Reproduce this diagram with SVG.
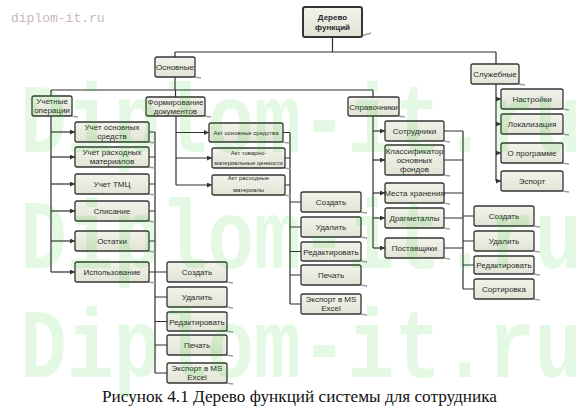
<svg xmlns="http://www.w3.org/2000/svg" width="587" height="415" viewBox="0 0 587 415">
<defs>
<linearGradient id="gf" x1="0" y1="0" x2="0" y2="1">
<stop offset="0" stop-color="#f2f3eb"/>
<stop offset="1" stop-color="#e1e4d5"/>
</linearGradient>
<marker id="ar" markerWidth="5" markerHeight="5" refX="5" refY="2.5" orient="auto" markerUnits="userSpaceOnUse">
<path d="M0,0 L5,2.5 L0,5 z" fill="#333"/>
</marker>
</defs>
<style>
.box{fill:url(#gf);stroke:#353535;stroke-width:1.3}
.sh{fill:none;stroke:#a0a0a0;stroke-width:1.5}
.t{font-family:"Liberation Sans",Arial,sans-serif;font-size:8px;fill:#2a2a2a;text-anchor:middle}
.ts{font-family:"Liberation Sans",Arial,sans-serif;font-size:6px;fill:#2a2a2a;text-anchor:middle}
.c{fill:none;stroke:#2e2e2e;stroke-width:1.2}
.a{fill:none;stroke:#2e2e2e;stroke-width:1.2;marker-end:url(#ar)}
.wm{font-family:"Liberation Mono","Courier New",monospace;font-size:78px;font-weight:bold;fill:#00cc00;fill-opacity:0.11}
</style>
<rect width="587" height="415" fill="#ffffff"/>
<text x="11" y="22" style="font-family:'Liberation Mono',monospace;font-size:13px;fill:#cbb7b7">diplom-it.ru</text>

<g id="connectors">
<path class="c" d="M332.5,37 V52 M175,52 H496 M175,52 V57 M496,52 V64"/>
<path class="c" d="M175,77 V90 M51,90 H373 M51,90 V96 M175.5,90 V97 M373,90 V97"/>
<path class="c" d="M51,116 V272"/>
<path class="a" d="M51,132 H75"/><path class="a" d="M51,157 H75"/><path class="a" d="M51,184 H75"/>
<path class="a" d="M51,211 H75"/><path class="a" d="M51,241 H75"/><path class="a" d="M51,272 H75"/>
<path class="c" d="M155,132 V373 M149,132 H155 M149,157 H155 M149,184 H155 M149,211 H155 M149,241 H155 M149,272 H167 M155,297 H167 M155,321.5 H167 M155,345 H167 M155,373 H167"/>
<path class="c" d="M176,116 V185"/>
<path class="a" d="M176,132.5 H209"/><path class="a" d="M176,158 H212"/><path class="a" d="M176,185 H212"/>
<path class="c" d="M290,132.5 V304 M283,132.5 H290 M285,158 H290 M285,185 H290 M290,202 H301 M290,227 H301 M290,251.5 H301 M290,275 H301 M290,304 H301"/>
<path class="c" d="M373,116 V248"/>
<path class="a" d="M373,131 H385"/><path class="a" d="M373,160 H385"/><path class="a" d="M373,193 H385"/>
<path class="a" d="M373,218 H385"/><path class="a" d="M373,248 H385"/>
<path class="c" d="M463,131 V289 M444,131 H463 M444,160 H463 M444,193 H463 M444,218 H463 M444,248 H463 M463,216 H474 M463,241 H474 M463,265 H474 M463,289 H474"/>
<path class="c" d="M496,84 V181"/>
<path class="a" d="M496,99 H501"/><path class="a" d="M496,124 H501"/><path class="a" d="M496,153 H501"/><path class="a" d="M496,181 H501"/>
</g>

<g id="root"><path class="sh" d="M361,36 L371,33"/><rect class="box" x="303" y="7" width="59" height="30" rx="2" style="stroke-width:2"/><text class="t" x="332.5" y="20" font-weight="bold">Дерево</text><text class="t" x="332.5" y="30" font-weight="bold">функций</text></g>
<g id="osnovnye"><path class="sh" d="M194,77 L201,78"/><rect class="box" x="155" y="57" width="40" height="20" rx="2"/><text class="t" x="175" y="70">Основные</text></g>
<g id="sluzhebnye"><path class="sh" d="M518,84 L525,85"/><rect class="box" x="471" y="64" width="48" height="20" rx="2"/><text class="t" x="495" y="77">Служебные</text></g>
<g id="uchetnye"><path class="sh" d="M71,116 L78,117"/><rect class="box" x="32" y="96" width="40" height="20" rx="2"/><text class="t" x="52" y="104">Учетные</text><text class="t" x="52" y="113">операции</text></g>
<g id="formirovanie"><path class="sh" d="M204,116 L211,117"/><rect class="box" x="146" y="97" width="59" height="19" rx="2"/><text class="t" x="175.5" y="105">Формирование</text><text class="t" x="175.5" y="114">документов</text></g>
<g id="spravochniki"><path class="sh" d="M398,116 L405,117"/><rect class="box" x="348" y="97" width="51" height="19" rx="2"/><text class="t" x="373.5" y="109.5">Справочники</text></g>

<g id="uos"><path class="sh" d="M148,142 L155,143"/><rect class="box" x="75" y="122" width="74" height="20" rx="2"/><text class="t" x="112" y="130">Учет основных</text><text class="t" x="112" y="139">средств</text></g>
<g id="urm"><path class="sh" d="M148,167 L155,168"/><rect class="box" x="75" y="147" width="74" height="20" rx="2"/><text class="t" x="112" y="155">Учет расходных</text><text class="t" x="112" y="164">материалов</text></g>
<g id="utmc"><path class="sh" d="M148,194 L155,195"/><rect class="box" x="75" y="174" width="74" height="20" rx="2"/><text class="t" x="112" y="187">Учет ТМЦ</text></g>
<g id="spisanie"><path class="sh" d="M148,221 L155,222"/><rect class="box" x="75" y="201" width="74" height="20" rx="2"/><text class="t" x="112" y="214">Списание</text></g>
<g id="ostatki"><path class="sh" d="M148,251 L155,252"/><rect class="box" x="75" y="231" width="74" height="20" rx="2"/><text class="t" x="112" y="244">Остатки</text></g>
<g id="ispolzovanie"><path class="sh" d="M148,282 L155,283"/><rect class="box" x="75" y="262" width="74" height="20" rx="2"/><text class="t" x="112" y="275">Использование</text></g>

<g id="i_create"><path class="sh" d="M226,282 L233,283"/><rect class="box" x="167" y="262" width="60" height="20" rx="2"/><text class="t" x="197" y="275">Создать</text></g>
<g id="i_del"><path class="sh" d="M226,307 L233,308"/><rect class="box" x="167" y="287" width="60" height="20" rx="2"/><text class="t" x="197" y="300">Удалить</text></g>
<g id="i_edit"><path class="sh" d="M226,331 L233,332"/><rect class="box" x="167" y="312" width="60" height="19" rx="2"/><text class="t" x="197" y="324.5">Редактировать</text></g>
<g id="i_print"><path class="sh" d="M226,355 L233,356"/><rect class="box" x="167" y="335" width="60" height="20" rx="2"/><text class="t" x="197" y="348">Печать</text></g>
<g id="i_export"><path class="sh" d="M226,383 L233,384"/><rect class="box" x="167" y="363" width="60" height="20" rx="2"/><text class="t" x="197" y="371">Экспорт в MS</text><text class="t" x="197" y="380">Excel</text></g>

<g id="akt1"><path class="sh" d="M282,142 L289,143"/><rect class="box" x="209" y="123" width="74" height="19" rx="2"/><text class="ts" x="246" y="134.5">Акт основные средства</text></g>
<g id="akt2"><path class="sh" d="M284,168 L291,169"/><rect class="box" x="212" y="148" width="73" height="20" rx="2"/><text class="ts" x="248.5" y="155">Акт товарно-</text><text class="ts" x="248.5" y="164.5">материальные ценности</text></g>
<g id="akt3"><path class="sh" d="M284,195 L291,196"/><rect class="box" x="212" y="175" width="73" height="20" rx="2"/><text class="ts" x="248.5" y="179.5">Акт расходные</text><text class="ts" x="248.5" y="191.5">материалы</text></g>

<g id="f_create"><path class="sh" d="M360,212 L367,213"/><rect class="box" x="301" y="192" width="60" height="20" rx="2"/><text class="t" x="331" y="205">Создать</text></g>
<g id="f_del"><path class="sh" d="M360,237 L367,238"/><rect class="box" x="301" y="217" width="60" height="20" rx="2"/><text class="t" x="331" y="230">Удалить</text></g>
<g id="f_edit"><path class="sh" d="M360,261 L367,262"/><rect class="box" x="301" y="242" width="60" height="19" rx="2"/><text class="t" x="331" y="254.5">Редактировать</text></g>
<g id="f_print"><path class="sh" d="M360,285 L367,286"/><rect class="box" x="301" y="265" width="60" height="20" rx="2"/><text class="t" x="331" y="278">Печать</text></g>
<g id="f_export"><path class="sh" d="M360,314 L367,315"/><rect class="box" x="301" y="294" width="60" height="20" rx="2"/><text class="t" x="331" y="302">Экспорт в MS</text><text class="t" x="331" y="311">Excel</text></g>

<g id="sotrudniki"><path class="sh" d="M443,141 L450,142"/><rect class="box" x="385" y="121" width="59" height="20" rx="2"/><text class="t" x="414.5" y="134">Сотрудники</text></g>
<g id="klassifikator"><path class="sh" d="M443,175 L450,176"/><rect class="box" x="385" y="145" width="59" height="30" rx="2"/><text class="t" x="414.5" y="153.5">Классификатор</text><text class="t" x="414.5" y="162.5">основных</text><text class="t" x="414.5" y="171.5">фондов</text></g>
<g id="mesta"><path class="sh" d="M443,203 L450,204"/><rect class="box" x="385" y="183" width="59" height="20" rx="2"/><text class="t" x="414.5" y="196">Места хранения</text></g>
<g id="dragmetally"><path class="sh" d="M443,228 L450,229"/><rect class="box" x="385" y="208" width="59" height="20" rx="2"/><text class="t" x="414.5" y="221">Драгметаллы</text></g>
<g id="postavshchiki"><path class="sh" d="M443,258 L450,259"/><rect class="box" x="385" y="238" width="59" height="20" rx="2"/><text class="t" x="414.5" y="251">Поставщики</text></g>

<g id="s_create"><path class="sh" d="M533,226 L540,227"/><rect class="box" x="474" y="206" width="60" height="20" rx="2"/><text class="t" x="504" y="219">Создать</text></g>
<g id="s_del"><path class="sh" d="M533,251 L540,252"/><rect class="box" x="474" y="231" width="60" height="20" rx="2"/><text class="t" x="504" y="244">Удалить</text></g>
<g id="s_edit"><path class="sh" d="M533,274 L540,275"/><rect class="box" x="474" y="256" width="60" height="18" rx="2"/><text class="t" x="504" y="268">Редактировать</text></g>
<g id="s_sort"><path class="sh" d="M533,299 L540,300"/><rect class="box" x="474" y="279" width="60" height="20" rx="2"/><text class="t" x="504" y="292">Сортировка</text></g>

<g id="nastroiki"><path class="sh" d="M562,109 L569,110"/><rect class="box" x="501" y="89" width="62" height="20" rx="2"/><text class="t" x="532" y="102">Настройки</text></g>
<g id="lokalizaciya"><path class="sh" d="M562,134 L569,135"/><rect class="box" x="501" y="114" width="62" height="20" rx="2"/><text class="t" x="532" y="127">Локализация</text></g>
<g id="oprogramme"><path class="sh" d="M562,163 L569,164"/><rect class="box" x="501" y="143" width="62" height="20" rx="2"/><text class="t" x="532" y="156">О программе</text></g>
<g id="esport"><path class="sh" d="M562,191 L569,192"/><rect class="box" x="501" y="171" width="62" height="20" rx="2"/><text class="t" x="532" y="184">Эспорт</text></g>

<text x="102" y="402" textLength="395" lengthAdjust="spacingAndGlyphs" style="font-family:'Liberation Serif','Times New Roman',serif;font-size:16px;fill:#111">Рисунок 4.1 Дерево функций системы для сотрудника</text>

<g id="watermark">
<text class="wm" transform="translate(20,152) scale(1,1.25)">Diplom-it.ru</text>
<text class="wm" transform="translate(20,268) scale(1,1.25)">Diplom-it.ru</text>
<text class="wm" transform="translate(20,377) scale(1,1.25)">Diplom-it.ru</text>
</g>
</svg>
